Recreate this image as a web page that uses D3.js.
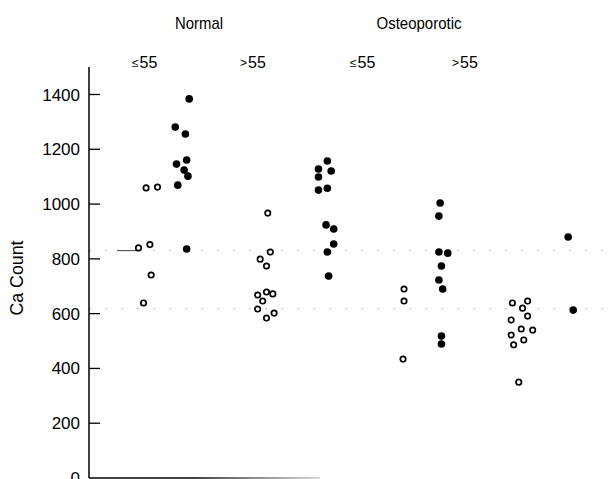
<!DOCTYPE html>
<html>
<head>
<meta charset="utf-8">
<script src="https://cdn.jsdelivr.net/npm/d3@7"></script>
<style>
  body { margin: 0; background: #fff; }
  svg { display: block; font-family: "Liberation Sans", Arial, sans-serif; }
</style>
</head>
<body>
<div id="chart"></div>
<script>
// group headers and age labels
const groups = ["Normal", "Osteoporotic"];
const ageLabels = ["≤", ">", "≤", ">"];
const yTicks = [0, 200, 400, 600, 800, 1000, 1200, 1400];

// each point: [column position (group units), Ca count]
const normalYoungOpen = [[0.34, 1059], [0.43, 1062], [0.28, 840], [0.37, 852], [0.38, 741], [0.32, 639]];
const normalYoungFilled = [[0.68, 1384], [0.57, 1281], [0.65, 1256], [0.58, 1146], [0.66, 1161],
  [0.64, 1124], [0.67, 1102], [0.59, 1069], [0.66, 836]];
const normalOldOpen = [[1.30, 967], [1.32, 825], [1.24, 799], [1.29, 774], [1.29, 679], [1.34, 672],
  [1.22, 668], [1.26, 646], [1.22, 617], [1.35, 602], [1.29, 584]];
const normalOldFilled = [[1.77, 1157], [1.70, 1128], [1.80, 1121], [1.70, 1099], [1.70, 1051],
  [1.77, 1058], [1.76, 924], [1.82, 909], [1.82, 854], [1.77, 825], [1.78, 737]];
const osteoYoungOpen = [[2.375, 690], [2.375, 646], [2.367, 434]];
const osteoYoungFilled = [[2.66, 1004], [2.65, 956], [2.65, 825], [2.72, 821], [2.67, 774],
  [2.65, 723], [2.68, 690], [2.67, 518], [2.67, 489]];
const osteoOldOpen = [[3.23, 639], [3.35, 646], [3.31, 620], [3.35, 591], [3.22, 577], [3.30, 544],
  [3.39, 540], [3.22, 522], [3.32, 504], [3.24, 486], [3.28, 350]];
const osteoOldFilled = [[3.67, 880], [3.71, 613]];

// faint reference levels
const refLevels = [830, 618];

const width = 611, height = 479;

const svg = d3.select("#chart").append("svg")
  .attr("width", width)
  .attr("height", height);

const x = d3.scaleLinear().domain([0, 4]).range([103, 610]);
const y = d3.scaleLinear().domain([0, 1400]).range([478, 94.5]);

const axisX = 89;

// reference lines
svg.selectAll("line.ref")
  .data(refLevels)
  .enter().append("line")
  .attr("class", "ref")
  .attr("x1", axisX).attr("x2", 605)
  .attr("y1", d => y(d)).attr("y2", d => y(d))
  .attr("stroke", "#aaa")
  .attr("stroke-width", 0.8)
  .attr("stroke-dasharray", "2,14");

// short solid piece of the upper level line near the first column
svg.append("line")
  .attr("x1", x(0.11)).attr("x2", x(0.28))
  .attr("y1", y(refLevels[0])).attr("y2", y(refLevels[0]))
  .attr("stroke", "#444").attr("stroke-width", 1);

// y axis
svg.append("line")
  .attr("x1", axisX).attr("x2", axisX)
  .attr("y1", 67).attr("y2", y(0))
  .attr("stroke", "#000").attr("stroke-width", 1.5);

svg.selectAll("line.tick")
  .data(yTicks.filter(d => d > 0))
  .enter().append("line")
  .attr("class", "tick")
  .attr("x1", axisX).attr("x2", axisX + 11)
  .attr("y1", d => y(d)).attr("y2", d => y(d))
  .attr("stroke", "#000").attr("stroke-width", 1.3);

svg.selectAll("text.tick")
  .data(yTicks)
  .enter().append("text")
  .attr("class", "tick")
  .attr("x", 80)
  .attr("y", d => y(d) + 6)
  .attr("text-anchor", "end")
  .attr("font-size", 17)
  .text(d => d);

// bottom axis, fading out to the right as in the scan
const grad = svg.append("defs").append("linearGradient")
  .attr("id", "fade").attr("gradientUnits", "userSpaceOnUse")
  .attr("x1", axisX).attr("x2", 320).attr("y1", 0).attr("y2", 0);
grad.append("stop").attr("offset", "0.45").attr("stop-color", "#000");
grad.append("stop").attr("offset", "1").attr("stop-color", "#ccc");
svg.append("line")
  .attr("x1", axisX).attr("x2", 320)
  .attr("y1", y(0)).attr("y2", y(0))
  .attr("stroke", "url(#fade)").attr("stroke-width", 1.5);

svg.append("text")
  .attr("transform", "translate(23," + y(730) + ") rotate(-90)")
  .attr("text-anchor", "middle")
  .attr("font-size", 18)
  .attr("textLength", 75)
  .attr("lengthAdjust", "spacingAndGlyphs")
  .text("Ca Count");

// headers
svg.selectAll("text.group")
  .data(groups)
  .enter().append("text")
  .attr("class", "group")
  .attr("x", (d, i) => [199, 419][i])
  .attr("y", 29)
  .attr("text-anchor", "middle")
  .attr("font-size", 17)
  .attr("textLength", (d, i) => [48, 85][i])
  .attr("lengthAdjust", "spacingAndGlyphs")
  .text(d => d);

const age = svg.selectAll("text.age")
  .data(ageLabels)
  .enter().append("text")
  .attr("class", "age")
  .attr("x", (d, i) => [132, 240, 350, 452][i])
  .attr("y", 68)
  .attr("font-size", 16);
age.append("tspan").attr("font-size", 12).attr("dy", -1).text(d => d);
age.append("tspan").attr("dx", 1).attr("dy", 1).text("55");

// points
const openSets = [normalYoungOpen, normalOldOpen, osteoYoungOpen, osteoOldOpen];
const filledSets = [normalYoungFilled, normalOldFilled, osteoYoungFilled, osteoOldFilled];

svg.append("g").selectAll("circle")
  .data(openSets.flat())
  .enter().append("circle")
  .attr("cx", d => x(d[0]))
  .attr("cy", d => y(d[1]))
  .attr("r", 2.7)
  .attr("fill", "#fff")
  .attr("stroke", "#000")
  .attr("stroke-width", 1.7);

svg.append("g").selectAll("circle")
  .data(filledSets.flat())
  .enter().append("circle")
  .attr("cx", d => x(d[0]))
  .attr("cy", d => y(d[1]))
  .attr("r", 3.8)
  .attr("fill", "#000");
</script>
</body>
</html>
